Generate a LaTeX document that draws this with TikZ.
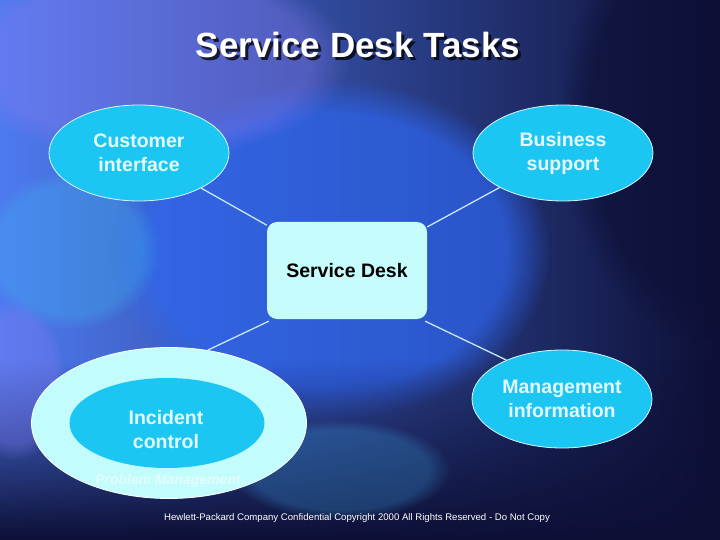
\documentclass[tikz,border=0pt]{standalone}
\usepackage{fontspec}
\setmainfont{Liberation Sans}
\usetikzlibrary{shapes.geometric,fadings}
\definecolor{bgA}{HTML}{4E7AF0}
\definecolor{bgB}{HTML}{2456D8}
\definecolor{bgC}{HTML}{0D0F35}
\definecolor{bgP}{HTML}{8C7CF2}
\definecolor{bgS}{HTML}{3FB0F0}
\definecolor{bgM}{HTML}{2E66F0}
\definecolor{ellfill}{HTML}{1CC6F2}
\definecolor{ellline}{HTML}{D8F6FF}
\definecolor{boxfill}{HTML}{C6FCFC}
\definecolor{outerfill}{HTML}{C2FCFC}
\definecolor{linkc}{HTML}{C8E8FF}
\definecolor{elltext}{HTML}{E4FAFF}
\tikzset{
  ell/.style={ellipse, fill=ellfill, draw=ellline, line width=0.8pt, inner sep=0pt},
  elltxt/.style={align=center, text=elltext, font=\fontsize{19.5}{24}\selectfont\bfseries},
  link/.style={draw=linkc, line width=1.3pt},
}
\begin{document}
\begin{tikzpicture}[x=1pt,y=-1pt]
\useasboundingbox (0,0) rectangle (720,540);
% background
\shade[left color=bgA, middle color=bgB, right color=bgC] (0,0) rectangle (720,540);
\fill[bgM, opacity=0.7, path fading=circle with fuzzy edge 20 percent] (330,250) ellipse (220pt and 170pt);
\fill[bgC, path fading=north] (0,360) rectangle (720,540);
\fill[bgP, opacity=0.35, path fading=circle with fuzzy edge 20 percent] (150,60) ellipse (200pt and 100pt);
\fill[bgS, opacity=0.35, path fading=circle with fuzzy edge 20 percent] (70,250) ellipse (90pt and 80pt);
\fill[bgS, opacity=0.25, path fading=circle with fuzzy edge 20 percent] (340,470) ellipse (110pt and 50pt);
\fill[bgP, opacity=0.3, path fading=circle with fuzzy edge 20 percent] (15,380) ellipse (50pt and 80pt);
\fill[bgC, opacity=0.6, path fading=circle with fuzzy edge 20 percent] (710,120) ellipse (150pt and 220pt);
% title
\node[text=black, opacity=0.75, font=\fontsize{35}{40}\selectfont\bfseries] (tsh) at (361,48) {Service Desk Tasks};
\node[text=white, font=\fontsize{35}{40}\selectfont\bfseries] (title) at (358,45) {Service Desk Tasks};
% nodes
\node[ell, minimum width=180pt, minimum height=96pt] (ci) at (139,153) {};
\node[elltxt] (cit) at (139,153) {Customer\\interface};
\node[ell, minimum width=180pt, minimum height=96pt] (bs) at (563,153) {};
\node[elltxt] (bst) at (563,153) {Business\\support};
\node[ell, minimum width=180pt, minimum height=98pt] (mi) at (562,399) {};
\node[elltxt] (mit) at (562,399) {Management\\information};
\node[ellipse, fill=outerfill, draw=white, line width=0.8pt, minimum width=275pt, minimum height=151pt] (pe) at (169,423) {};
\node[ellipse, fill=ellfill, minimum width=195pt, minimum height=90pt] (ic) at (167,423) {};
\node[elltxt] (ict) at (166,430) {Incident\\control};
\node[text=white, opacity=0.55, font=\fontsize{14}{16}\selectfont\bfseries\itshape] (pm) at (168,481) {Problem Management};
\node[rectangle, rounded corners=10pt, fill=boxfill, minimum width=160pt, minimum height=97pt, font=\fontsize{19.5}{24}\selectfont\bfseries] (sd) at (347,270.5) {Service Desk};
% connectors
\draw[link] (ci) -- (sd);
\draw[link] (bs) -- (sd);
\draw[link] ([shift={(2pt,-2pt)}]sd.south west) -- (pe.62);
\draw[link] ([shift={(-2pt,-2pt)}]sd.south east) -- (mi.145);
% footer
\node[text=white, font=\fontsize{9.6}{11}\selectfont] (foot) at (357,518) {Hewlett-Packard Company Confidential Copyright 2000 All Rights Reserved - Do Not Copy};
\end{tikzpicture}
\end{document}
